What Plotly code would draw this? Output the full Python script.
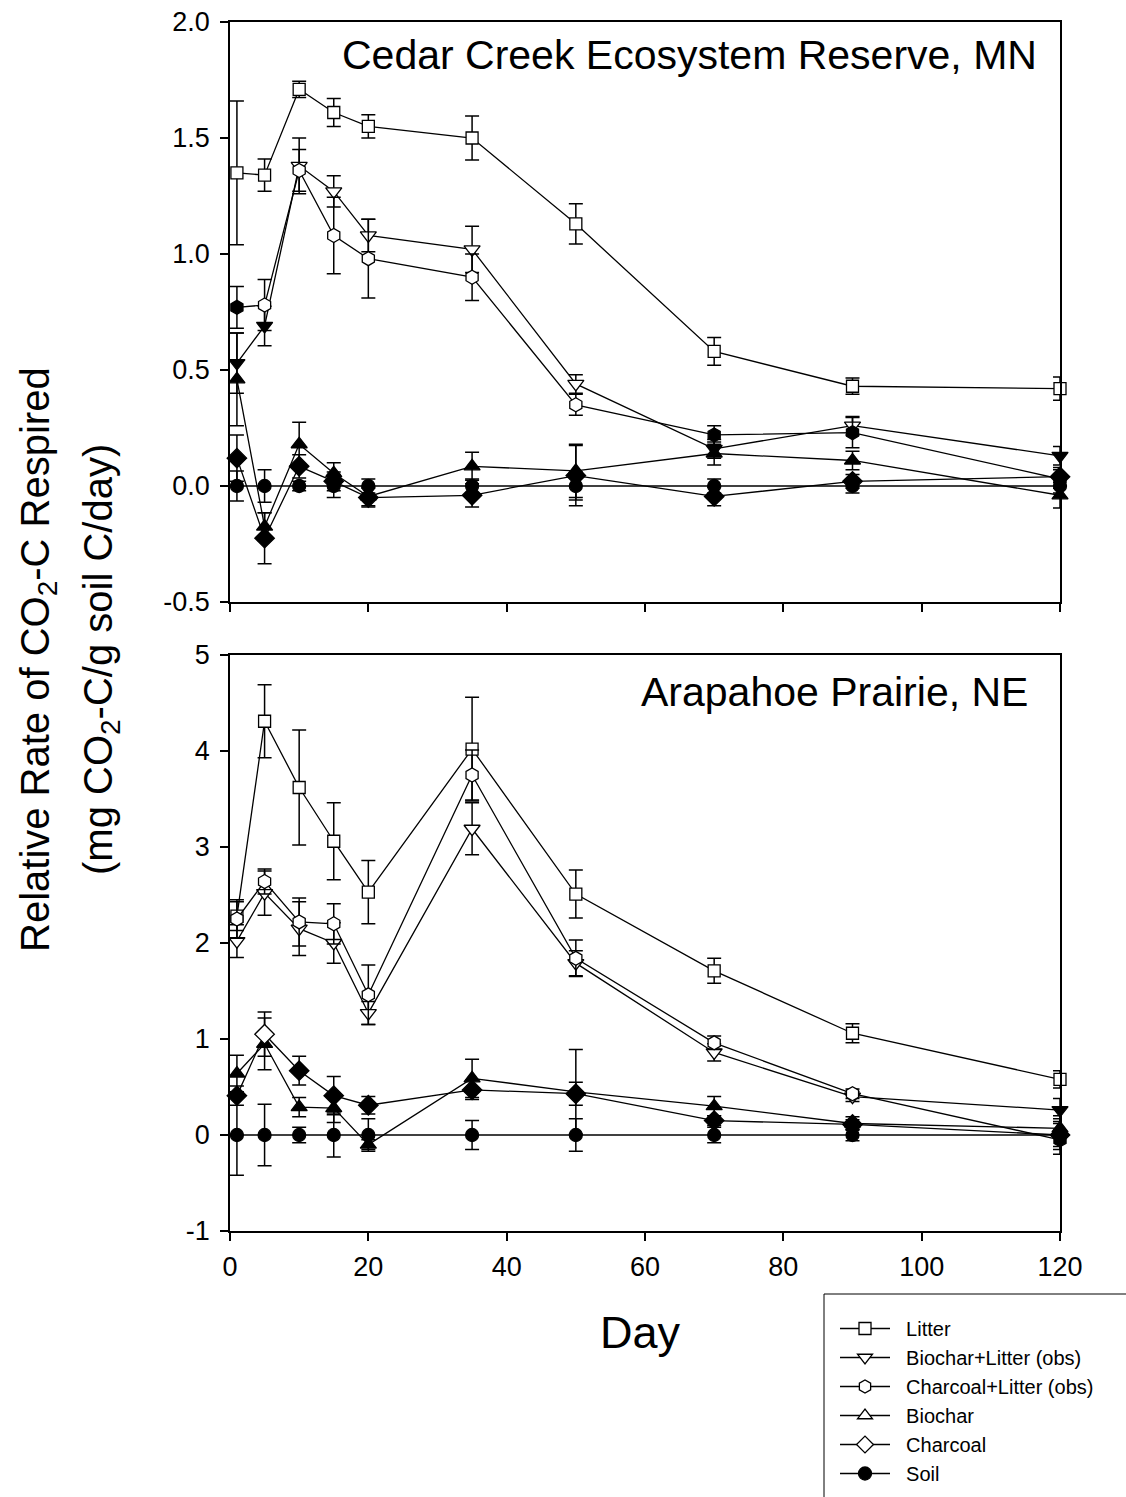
import plotly.graph_objects as go

# Sampling days (shared by both sites)
days = [1, 5, 10, 15, 20, 35, 50, 70, 90, 120]

# Cedar Creek Ecosystem Reserve, MN  -- mean relative rate and SE
cc_litter = [1.35, 1.34, 1.71, 1.61, 1.55, 1.50, 1.13, 0.58, 0.43, 0.42]
cc_litter_se = [0.31, 0.07, 0.035, 0.06, 0.05, 0.095, 0.087, 0.06, 0.035, 0.05]
cc_biochar_litter = [0.53, 0.69, 1.38, 1.27, 1.08, 1.02, 0.44, 0.16, 0.26, 0.13]
cc_biochar_litter_se = [0.13, 0.085, 0.12, 0.067, 0.07, 0.10, 0.04, 0.04, 0.04, 0.04]
cc_charcoal_litter = [0.77, 0.78, 1.36, 1.08, 0.98, 0.90, 0.35, 0.22, 0.23, 0.03]
cc_charcoal_litter_se = [0.09, 0.11, 0.09, 0.165, 0.17, 0.10, 0.045, 0.04, 0.065, 0.04]
cc_biochar = [0.46, -0.175, 0.18, 0.055, -0.045, 0.085, 0.065, 0.14, 0.11, -0.04]
cc_biochar_se = [0.20, 0.06, 0.095, 0.045, 0.04, 0.06, 0.115, 0.05, 0.04, 0.055]
cc_charcoal = [0.12, -0.225, 0.085, 0.02, -0.05, -0.04, 0.045, -0.045, 0.02, 0.04]
cc_charcoal_se = [0.10, 0.11, 0.05, 0.04, 0.04, 0.05, 0.13, 0.04, 0.03, 0.04]
cc_soil = [0, 0, 0, 0, 0, 0, 0, 0, 0, 0]
cc_soil_se = [0.065, 0.07, 0.02, 0.05, 0.03, 0.03, 0.06, 0.03, 0.03, 0.03]

# Arapahoe Prairie, NE  -- mean relative rate and SE
ap_litter = [2.28, 4.31, 3.62, 3.06, 2.53, 4.02, 2.51, 1.71, 1.06, 0.58]
ap_litter_se = [0.15, 0.38, 0.60, 0.40, 0.33, 0.54, 0.25, 0.13, 0.10, 0.09]
ap_biochar_litter = [2.02, 2.52, 2.15, 2.00, 1.27, 3.19, 1.79, 0.86, 0.40, 0.26]
ap_biochar_litter_se = [0.17, 0.23, 0.28, 0.21, 0.12, 0.27, 0.13, 0.09, 0.05, 0.12]
ap_charcoal_litter = [2.25, 2.64, 2.22, 2.20, 1.46, 3.75, 1.84, 0.96, 0.43, -0.05]
ap_charcoal_litter_se = [0.20, 0.13, 0.25, 0.21, 0.31, 0.26, 0.19, 0.07, 0.05, 0.10]
ap_biochar = [0.64, 0.95, 0.29, 0.28, -0.10, 0.59, 0.45, 0.30, 0.12, 0.07]
ap_biochar_se = [0.19, 0.27, 0.10, 0.15, 0.05, 0.20, 0.44, 0.10, 0.07, 0.10]
ap_charcoal = [0.41, 1.05, 0.67, 0.41, 0.31, 0.47, 0.43, 0.15, 0.11, 0.00]
ap_charcoal_se = [0.10, 0.23, 0.15, 0.20, 0.09, 0.10, 0.12, 0.05, 0.05, 0.12]
ap_soil = [0, 0, 0, 0, 0, 0, 0, 0, 0, 0]
ap_soil_se = [0.42, 0.32, 0.08, 0.23, 0.17, 0.15, 0.17, 0.08, 0.06, 0.20]

treatments = ["Litter", "Biochar+Litter (obs)", "Charcoal+Litter (obs)",
              "Biochar", "Charcoal", "Soil"]
x_ticks = [0, 20, 40, 60, 80, 100, 120]
cc_y_ticks = [-0.5, 0.0, 0.5, 1.0, 1.5, 2.0]
cc_y_labels = ["-0.5", "0.0", "0.5", "1.0", "1.5", "2.0"]
ap_y_ticks = [-1, 0, 1, 2, 3, 4, 5]
ap_y_labels = ["-1", "0", "1", "2", "3", "4", "5"]

# ---- styling -------------------------------------------------------------
FONT = "Liberation Sans, Arial, sans-serif"
W, H = 1126, 1497
L, R, T, B = 230, 66, 22, 266
PW, PH = W - L - R, H - T - B

symbols = ["square", "triangle-down", "hexagon", "triangle-up", "diamond", "circle"]
sizes = [12, 14, 14, 14, 15, 13]

# which points are drawn solid (1) or hollow (0), per site and treatment
cc_fill = [
    [0] * 10,
    [1, 1, 0, 0, 0, 0, 0, 1, 0, 1],
    [1, 0, 0, 0, 0, 0, 0, 1, 1, 1],
    [1] * 10,
    [1] * 10,
    [1] * 10,
]
ap_fill = [
    [0] * 10,
    [0, 0, 0, 0, 0, 0, 0, 0, 0, 1],
    [0, 0, 0, 0, 0, 0, 0, 0, 0, 1],
    [1] * 10,
    [1, 0, 1, 1, 1, 1, 1, 1, 1, 1],
    [1] * 10,
]


def px_x(px):
    return (px - L) / PW


def px_y(py):
    return (H - B - py) / PH


fig = go.Figure()

sites = [
    ("x", "y", [cc_litter, cc_biochar_litter, cc_charcoal_litter, cc_biochar, cc_charcoal, cc_soil],
     [cc_litter_se, cc_biochar_litter_se, cc_charcoal_litter_se, cc_biochar_se, cc_charcoal_se, cc_soil_se],
     cc_fill),
    ("x2", "y2", [ap_litter, ap_biochar_litter, ap_charcoal_litter, ap_biochar, ap_charcoal, ap_soil],
     [ap_litter_se, ap_biochar_litter_se, ap_charcoal_litter_se, ap_biochar_se, ap_charcoal_se, ap_soil_se],
     ap_fill),
]

for xa, ya, series, errors, fills in sites:
    for i, name in enumerate(treatments):
        fig.add_trace(go.Scatter(
            x=days, y=series[i], xaxis=xa, yaxis=ya,
            mode="lines+markers", name=name, showlegend=False,
            cliponaxis=False,
            line=dict(color="black", width=1.3),
            marker=dict(symbol=symbols[i], size=sizes[i],
                        color=["black" if f else "white" for f in fills[i]],
                        line=dict(color="black", width=1.3)),
            error_y=dict(type="data", array=errors[i], visible=True,
                         color="black", thickness=1.5, width=7),
        ))

# legend entries (hollow symbols, as in the key)
legend_fill = ["white", "white", "white", "white", "white", "black"]
for i, name in enumerate(treatments):
    fig.add_trace(go.Scatter(
        x=[None], y=[None], mode="lines+markers", name="\u00a0\u00a0" + name,
        line=dict(color="black", width=1.3),
        marker=dict(symbol=symbols[i], size=min(sizes[i], 13), color=legend_fill[i],
                    line=dict(color="black", width=1.3)),
    ))

axis_common = dict(
    showline=True, linecolor="black", linewidth=1.5, mirror=True,
    ticks="outside", ticklen=8, tickwidth=1.5, tickcolor="black",
    showgrid=False, zeroline=False,
    tickfont=dict(family=FONT, size=27, color="black"),
)

top_bottom = 1 - (602 - T) / PH
bottom_top = (H - B - 655) / PH

fig.update_layout(
    width=W, height=H,
    margin=dict(l=L, r=R, t=T, b=B, autoexpand=False),
    paper_bgcolor="white", plot_bgcolor="white",
    font=dict(family=FONT, color="black"),
    xaxis=dict(axis_common, range=[0, 120], tickvals=x_ticks, showticklabels=False,
               anchor="y", domain=[0, 1]),
    yaxis=dict(axis_common, range=[-0.5, 2.0], tickvals=cc_y_ticks, ticktext=cc_y_labels,
               ticklabelstandoff=5, domain=[top_bottom, 1], anchor="x"),
    xaxis2=dict(axis_common, range=[0, 120], tickvals=x_ticks, anchor="y2",
                ticklabelstandoff=3, domain=[0, 1]),
    yaxis2=dict(axis_common, range=[-1, 5], tickvals=ap_y_ticks, ticktext=ap_y_labels,
                ticklabelstandoff=5, domain=[0, bottom_top], anchor="x2"),
    showlegend=True,
    legend=dict(
        x=px_x(835), y=px_y(1309), xanchor="left", yanchor="top",
        borderwidth=0, bgcolor="rgba(0,0,0,0)",
        font=dict(family=FONT, size=20, color="black"),
        itemwidth=50, tracegroupgap=0,
    ),
    shapes=[dict(type="rect", xref="paper", yref="paper",
                 x0=px_x(824), x1=px_x(1140), y0=px_y(1294), y1=px_y(1510),
                 line=dict(color="black", width=1), fillcolor="white", layer="below")],
)

annotations = [
    dict(text="Cedar Creek Ecosystem Reserve, MN", x=px_x(1039), y=px_y(55),
         xanchor="right", yanchor="middle", font=dict(size=41)),
    dict(text="Arapahoe Prairie, NE", x=px_x(1030), y=px_y(692),
         xanchor="right", yanchor="middle", font=dict(size=41)),
    dict(text="Day", x=px_x(640), y=px_y(1332), xanchor="center", yanchor="middle",
         font=dict(size=45)),
    dict(text="Relative Rate of CO<sub>2</sub>-C Respired", x=px_x(38), y=px_y(660),
         xanchor="center", yanchor="middle", textangle=-90, font=dict(size=40)),
    dict(text="(mg CO<sub>2</sub>-C/g soil C/day)", x=px_x(101), y=px_y(660),
         xanchor="center", yanchor="middle", textangle=-90, font=dict(size=40)),
]
for a in annotations:
    a.update(xref="paper", yref="paper", showarrow=False)
    a["font"].update(family=FONT, color="black")
fig.update_layout(annotations=annotations)

fig.write_html("out.html")
